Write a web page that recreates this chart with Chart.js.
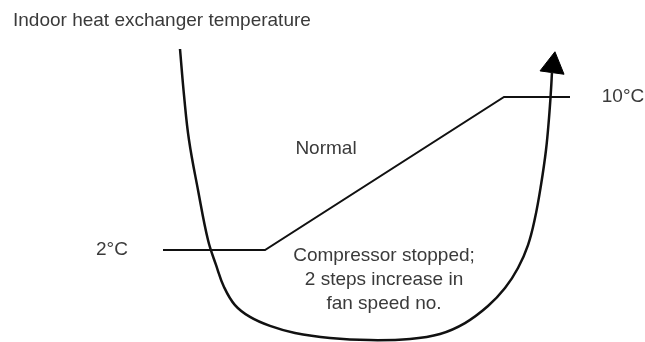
<!DOCTYPE html>
<html>
<head>
<meta charset="utf-8">
<script src="https://cdn.jsdelivr.net/npm/chart.js@4/dist/chart.umd.min.js"></script>
<style>
  html, body { margin: 0; padding: 0; background: #fff; }
  #wrap { width: 645px; height: 342px; }
</style>
</head>
<body>
<div id="wrap"><canvas id="c"></canvas></div>
<script>
// Time axis is arbitrary (no units shown); vertical axis is temperature in °C.
const curveTime = [180, 184, 189, 198, 208, 216, 224, 235, 250, 270, 295, 330, 370, 410, 440, 465, 488, 505, 518, 528, 535, 541, 546, 549, 551, 552];
const curveTemp = [12.51, 10.10, 7.75, 5.14, 2.52, 1.22, 0.07, -0.88, -1.50, -1.97, -2.34, -2.60, -2.71, -2.65, -2.39, -1.82, -0.93, 0.01, 1.06, 2.26, 3.67, 5.40, 7.23, 8.90, 10.37, 11.31];

// Arrow head at the end of the curve
const arrowTime = [553];
const arrowTemp = [11.64];

// Threshold: 2°C low plateau, ramp, 10°C high plateau
const thresholdTime = [163, 265, 504, 570];
const thresholdTemp = [2, 2, 10, 10];

// Threshold level labels
const levelValues = [2, 10];
const levelLabels = ['2°C', '10°C'];
const levelLabelTime = [112, 623];

const yTitle = 'Indoor heat exchanger temperature';
const zoneLabels = [
  { lines: ['Normal'], t: 326, temp: 7.3 },
  { lines: ['Compressor stopped;', '2 steps increase in', 'fan speed no.'], t: 384, temp: 0.42 }
];

const toPoints = (xs, ys) => xs.map((x, i) => ({ x: x, y: ys[i] }));

const FONT = '19px "Liberation Sans", Arial, sans-serif';
const TEXT = '#3a3a3a';

const textPlugin = {
  id: 'diagramText',
  afterDatasetsDraw(chart) {
    const { ctx, scales } = chart;
    const sx = scales.x, sy = scales.y;
    ctx.save();
    ctx.font = FONT;
    ctx.fillStyle = TEXT;
    ctx.textBaseline = 'middle';

    // vertical-axis title in the top-left corner
    ctx.textAlign = 'left';
    ctx.fillText(yTitle, 13, 21);

    // level labels
    ctx.textAlign = 'center';
    levelValues.forEach((v, i) => {
      ctx.fillText(levelLabels[i], sx.getPixelForValue(levelLabelTime[i]), sy.getPixelForValue(v));
    });

    // zone labels
    zoneLabels.forEach(z => {
      const cx = sx.getPixelForValue(z.t);
      const cy = sy.getPixelForValue(z.temp);
      const lh = 24;
      const top = cy - (z.lines.length - 1) * lh / 2;
      z.lines.forEach((ln, k) => ctx.fillText(ln, cx, top + k * lh));
    });
    ctx.restore();
  }
};

new Chart(document.getElementById('c'), {
  type: 'scatter',
  data: {
    datasets: [
      {
        data: toPoints(thresholdTime, thresholdTemp),
        showLine: true,
        borderColor: '#111',
        borderWidth: 2,
        pointRadius: 0,
        tension: 0,
        clip: false
      },
      {
        data: toPoints(curveTime, curveTemp),
        showLine: true,
        borderColor: '#111',
        borderWidth: 2.5,
        pointRadius: 0,
        tension: 0.4,
        clip: false
      },
      {
        data: toPoints(arrowTime, arrowTemp),
        showLine: false,
        pointStyle: 'triangle',
        pointRadius: 14,
        rotation: 8,
        backgroundColor: '#000',
        borderColor: '#000',
        borderWidth: 1,
        clip: false
      }
    ]
  },
  options: {
    responsive: true,
    maintainAspectRatio: false,
    animation: false,
    events: [],
    layout: { padding: 0, autoPadding: false },
    plugins: { legend: { display: false }, tooltip: { enabled: false }, title: { display: false } },
    scales: {
      x: { type: 'linear', display: false, min: 0, max: 645 },
      y: { type: 'linear', display: false, min: -2.81, max: 15.072 }
    }
  },
  plugins: [textPlugin]
});
</script>
</body>
</html>
